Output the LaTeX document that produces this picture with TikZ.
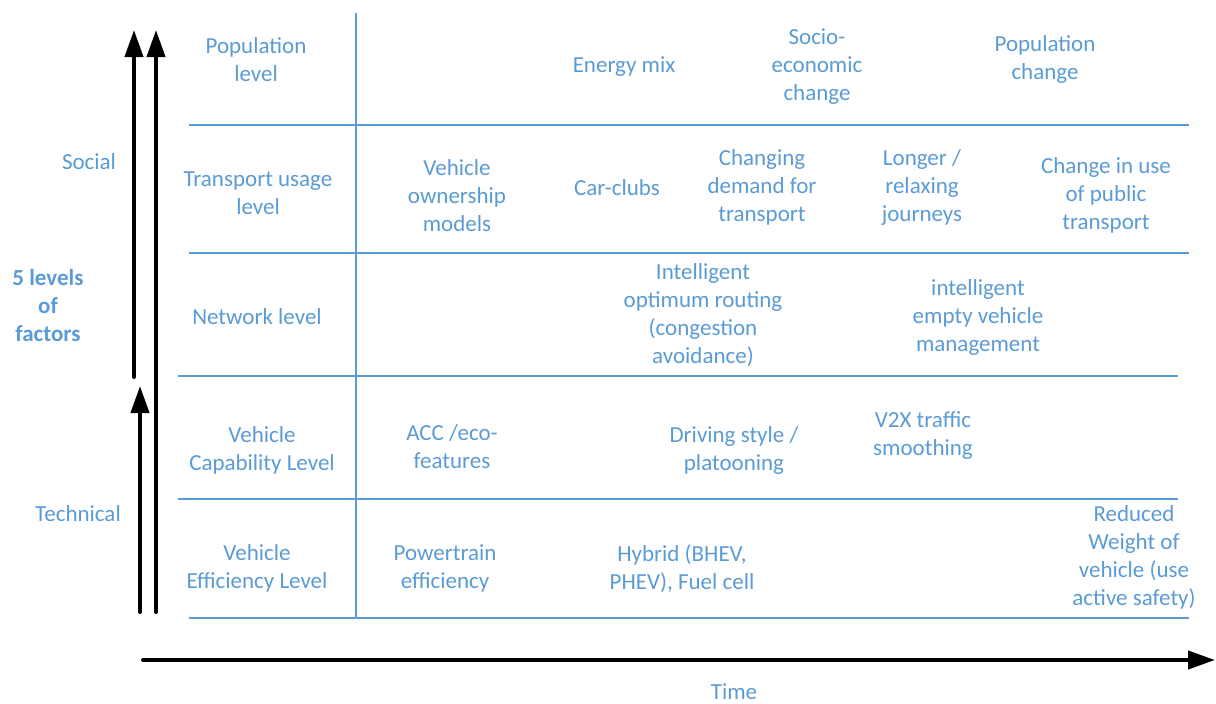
\documentclass[tikz,border=0pt]{standalone}
\usepackage{fontspec}
\setmainfont{Carlito}
\usetikzlibrary{arrows.meta}
\definecolor{factorblue}{HTML}{5B9BD5}

\begin{document}
\begin{tikzpicture}[x=1pt,y=-1pt,
    block_text/.style ={text=factorblue, align=center, inner sep=0pt,
      yshift=-1.5pt, font=\fontsize{23}{28}\selectfont},
    block_bold/.style ={block_text, font=\fontsize{23}{28}\selectfont\bfseries},
    grid_line/.style ={draw=factorblue, line width=2pt},
    line/.style ={draw=black, line width=4pt, line cap=round,
      -{Triangle[length=27pt,width=18pt]}}]
    \useasboundingbox (0,0) rectangle (1216,704);
    % row and side labels
    \node [block_text] (popLevel) at (256,58) {Population\\level};
    \node [block_text] (usageLevel) at (258,192) {Transport usage\\level};
    \node [block_text] (netLevel) at (257,315) {Network level};
    \node [block_text] (capLevel) at (262,449) {Vehicle\\Capability Level};
    \node [block_text] (effLevel) at (257,567) {Vehicle\\Efficiency Level};
    \node [block_text] (social) at (89,160) {Social};
    \node [block_text] (technical) at (78,512) {Technical};
    \node [block_bold] (levels) at (48,304) {5 levels\\of\\factors};
    \node [block_text, anchor=base, yshift=1.5pt] (time) at (734,699) {Time};
    % population level row
    \node [block_text] (energy) at (624,65) {Energy mix};
    \node [block_text] (socio) at (817,65) {Socio-\\economic\\change};
    \node [block_text] (popChange) at (1045,58) {Population\\change};
    % transport usage row
    \node [block_text] (ownership) at (457,194) {Vehicle\\ownership\\models};
    \node [block_text] (carClubs) at (617,186) {Car-clubs};
    \node [block_text] (demand) at (762,186) {Changing\\demand for\\transport};
    \node [block_text] (journeys) at (922,186) {Longer /\\relaxing\\journeys};
    \node [block_text] (publicUse) at (1106,194) {Change in use\\of public\\transport};
    % network row
    \node [block_text] (routing) at (703,314) {Intelligent\\optimum routing\\(congestion\\avoidance)};
    \node [block_text] (empty) at (978,316) {intelligent\\empty vehicle\\management};
    % vehicle capability row
    \node [block_text] (acc) at (452,445) {ACC /eco-\\features};
    \node [block_text] (driving) at (734,449) {Driving style /\\platooning};
    \node [block_text] (v2x) at (923,434) {V2X traffic\\smoothing};
    % vehicle efficiency row
    \node [block_text] (powertrain) at (445,567) {Powertrain\\efficiency};
    \node [block_text] (hybrid) at (682,567) {Hybrid (BHEV,\\PHEV), Fuel cell};
    \node [block_text] (weight) at (1134,556) {Reduced\\Weight of\\vehicle (use\\active safety)};
    % table grid
    \draw [grid_line] (356,13) -- (356,618);
    \draw [grid_line] (189,125) -- (1189,125);
    \draw [grid_line] (189,253) -- (1189,253);
    \draw [grid_line] (178,376) -- (1178,376);
    \draw [grid_line] (178,499) -- (1178,499);
    \draw [grid_line] (189,618) -- (1189,618);
    % arrow ends
    \coordinate (socialFoot) at (134,377);
    \coordinate (socialTip) at (134,30);
    \coordinate (allFoot) at (156,612);
    \coordinate (allTip) at (156,30);
    \coordinate (techFoot) at (140,612);
    \coordinate (techTip) at (140,386);
    \coordinate (timeFoot) at (143,660);
    \coordinate (timeTip) at (1215,660);
    \begin{scope}[every path/.style=line]
      \path (socialFoot) -- (socialTip);
      \path (allFoot) -- (allTip);
      \path (techFoot) -- (techTip);
      \path (timeFoot) -- (timeTip);
    \end{scope}
  \end{tikzpicture}
\end{document}
